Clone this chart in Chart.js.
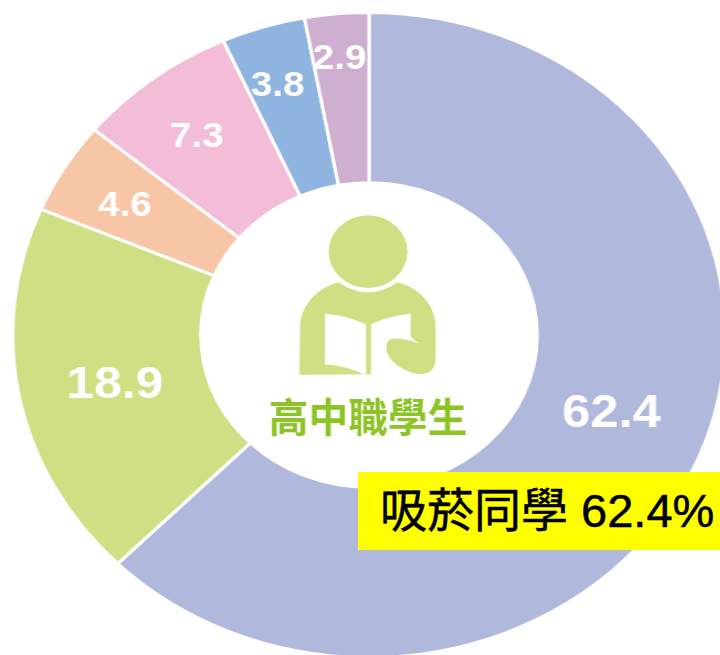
<!DOCTYPE html>
<html>
<head>
<meta charset="utf-8">
<script src="https://cdn.jsdelivr.net/npm/chart.js@4"></script>
<style>
  html, body { margin: 0; padding: 0; background: #fff; }
  #wrap { position: relative; width: 720px; height: 655px; overflow: hidden; }
  /* the source picture is a stretched image, so the ring is wider than tall */
  #ring { position: absolute; left: 45px; top: 11px; transform: scaleX(1.105); transform-origin: center center; }
  #note {
    position: absolute; left: 358px; top: 472px; width: 362px; height: 78px;
    background: #ffff00; color: #000; white-space: nowrap;
    font: 47px/78px "Liberation Sans", "Noto Sans CJK TC", sans-serif; text-indent: 22px;
    -webkit-text-stroke: 0.5px #000;
  }
</style>
</head>
<body>
<div id="wrap">
  <canvas id="ring" width="648" height="648"></canvas>
  <div id="note">吸菸同學 62.4%</div>
</div>
<script>
// only the first slice is named in the picture
var categories = ["吸菸同學", "", "", "", "", ""];
var values = [62.4, 18.9, 4.6, 7.3, 3.8, 2.9];
var sliceColors = ["#b0b8dc", "#cee083", "#f7c6a6", "#f3bdd7", "#8fb4e0", "#cfafcf"];
var centerTitle = "高中職學生";

// nudges for the value labels, from the middle of each slice
var labelNudge = [[0, -11], [3, 5], [-18, -5], [-12, -9], [-12, -22], [-5, -39]];
var labelSize = [46, 45, 35, 35, 35, 35];

var sliceLabels = {
  id: "sliceLabels",
  afterDatasetsDraw: function (chart) {
    var c = chart.ctx;
    c.save();
    c.fillStyle = "#fff";
    c.textAlign = "center";
    c.textBaseline = "middle";
    chart.getDatasetMeta(0).data.forEach(function (arc, i) {
      var p = arc.getCenterPoint();
      c.font = "bold " + labelSize[i] + "px 'Liberation Sans'";
      c.fillText(values[i].toFixed(1), p.x + labelNudge[i][0], p.y + labelNudge[i][1]);
    });
    c.restore();
  }
};

// reader icon + title in the hole. path is in units of 1/3 px, measured from a crop
var centerBadge = {
  id: "centerBadge",
  afterDatasetsDraw: function (chart) {
    var c = chart.ctx;
    var arc = chart.getDatasetMeta(0).data[0];
    c.save();
    c.translate(arc.x, arc.y);
    c.scale(1 / 3 / 1.105, 1 / 3);
    c.translate(-507, -465);

    c.fillStyle = "#cee083";
    c.beginPath();
    c.ellipse(504, 215, 118, 109, 0, 0, Math.PI * 2);
    c.fill();

    c.beginPath();
    c.moveTo(298, 584);
    c.lineTo(300, 440);
    c.bezierCurveTo(302, 370, 360, 320, 416, 307);
    c.quadraticCurveTo(504, 368, 592, 307);
    c.bezierCurveTo(650, 320, 706, 370, 707, 440);
    c.lineTo(707, 535);
    c.bezierCurveTo(707, 570, 685, 584, 660, 582);
    c.lineTo(298, 584);
    c.closePath();
    c.fill();

    c.fillStyle = "#fff";
    c.beginPath();
    c.moveTo(375, 401);
    c.quadraticCurveTo(440, 405, 498, 433);
    c.lineTo(498, 583);
    c.lineTo(490, 583);
    c.quadraticCurveTo(440, 558, 375, 553);
    c.closePath();
    c.fill();

    c.beginPath();
    c.moveTo(513, 433);
    c.quadraticCurveTo(570, 405, 632, 401);
    c.lineTo(632, 470);
    c.lineTo(658, 491);
    c.quadraticCurveTo(610, 472, 575, 476);
    c.bezierCurveTo(555, 480, 553, 510, 570, 535);
    c.bezierCurveTo(590, 562, 630, 580, 660, 584);
    c.lineTo(513, 584);
    c.closePath();
    c.fill();

    c.fillStyle = "#8cc425";
    c.font = "bold 119px 'Noto Sans CJK TC'";
    c.textAlign = "center";
    c.textBaseline = "middle";
    c.fillText(centerTitle, 504, 711);
    c.restore();
  }
};

new Chart(document.getElementById("ring"), {
  type: "doughnut",
  data: {
    labels: categories,
    datasets: [{
      data: values,
      backgroundColor: sliceColors,
      borderColor: "#fff",
      borderWidth: 3
    }]
  },
  options: {
    responsive: false,
    animation: false,
    cutout: "47.2%",
    plugins: { legend: { display: false }, tooltip: { enabled: false } }
  },
  plugins: [sliceLabels, centerBadge]
});
</script>
</body>
</html>
